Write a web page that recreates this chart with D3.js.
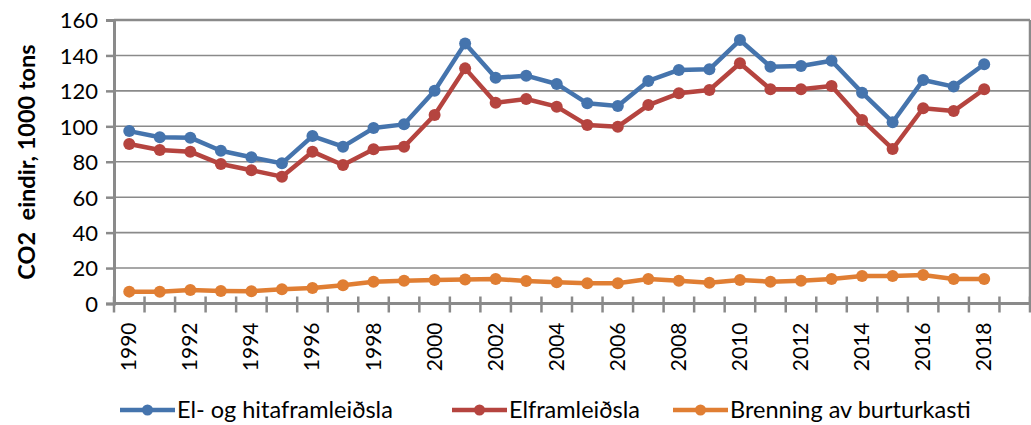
<!DOCTYPE html>
<html><head><meta charset="utf-8">
<script src="https://cdn.jsdelivr.net/npm/d3@7"></script>
<style>body{margin:0;background:#fff}svg{display:block;font-family:Lato,"Open Sans",sans-serif}</style>
</head><body><svg id="c" width="1031" height="425"></svg>
<script>
const years = d3.range(1990, 2020);
const tickLabels = ["1990","1992","1994","1996","1998","2000","2002","2004","2006","2008","2010","2012","2014","2016","2018"];
const yTicks = [0,20,40,60,80,100,120,140,160];
const seriesNames = ["El- og hitaframleiðsla","Elframleiðsla","Brenning av burturkasti"];
const elHita = [97.3,93.8,93.6,86.2,82.5,79.1,94.5,88.5,99.0,101.1,120.1,146.8,127.4,128.6,123.9,113.0,111.5,125.6,131.8,132.2,148.7,133.6,134.0,137.0,119.0,102.3,126.1,122.4,135.0];
const elfram = [90.0,86.6,85.7,78.7,75.2,71.6,85.7,78.2,87.0,88.5,106.4,132.7,113.3,115.4,111.1,100.7,99.8,112.0,118.6,120.5,135.6,120.9,120.9,122.7,103.6,87.2,110.2,108.6,120.9];
const brenning = [6.7,6.6,7.6,7.1,6.9,8.0,8.7,10.3,12.3,12.9,13.3,13.6,13.8,12.7,12.0,11.4,11.4,13.8,12.9,11.7,13.3,12.3,12.9,13.8,15.5,15.5,16.1,13.8,13.8];
const colors = ["#4574ad","#b5443f","#e07e33"];
const series = [elHita, elfram, brenning];

const svg = d3.select("#c");
const L = 114, R = 1030, T = 20, B = 303.5;
const x = d3.scaleBand().domain(years).range([L, R]).padding(0);
const y = d3.scaleLinear().domain([0,160]).range([B, T]);
const axisColor = "#8a8a8a";

// gridlines
svg.append("g").selectAll("line").data(yTicks.filter(d=>d>0)).join("line")
  .attr("x1", L).attr("x2", R).attr("y1", d=>y(d)).attr("y2", d=>y(d))
  .attr("stroke", axisColor).attr("stroke-width", d=>d===160?2.5:1.6);
// right border
svg.append("line").attr("x1", R).attr("x2", R).attr("y1", T).attr("y2", B)
  .attr("stroke", axisColor).attr("stroke-width", 2.5);

// y axis
const yAxis = svg.append("g").attr("transform", `translate(${L},0)`)
  .call(d3.axisLeft(y).tickValues(yTicks).tickSize(8).tickPadding(8));
yAxis.select(".domain").attr("stroke", axisColor).attr("stroke-width", 3);
yAxis.selectAll(".tick line").attr("stroke", axisColor).attr("stroke-width", 2.5);
yAxis.selectAll(".tick text").attr("font-size", 22).attr("fill", "#000").attr("font-family","Lato").attr("dy","0.36em");

// x axis
const bounds = years.map(d=>x(d)).concat([R]);
svg.append("line").attr("x1", L).attr("x2", R).attr("y1", B).attr("y2", B)
  .attr("stroke", axisColor).attr("stroke-width", 3);
svg.append("g").selectAll("line").data(bounds).join("line")
  .attr("x1", d=>d).attr("x2", d=>d).attr("y1", B-7).attr("y2", B+9)
  .attr("stroke", axisColor).attr("stroke-width", 2.5);
svg.append("g").selectAll("text").data(tickLabels).join("text")
  .attr("transform", d=>`translate(${x(+d)+x.bandwidth()/2+7},${B+19}) rotate(-90)`)
  .attr("text-anchor","end").attr("font-size", 21).attr("fill","#000").text(d=>d);

// y label
svg.append("text").attr("transform", `translate(${35},${162}) rotate(-90)`)
  .attr("text-anchor","middle").attr("font-size", 23.5).attr("font-weight","bold")
  .style("white-space","pre").text("CO2  eindir, 1000 tons");

// series
const line = d3.line().x((d,i)=>x(years[i])+x.bandwidth()/2).y(d=>y(d));
series.forEach((s,k)=>{
  const g = svg.append("g");
  g.append("path").attr("d", line(s)).attr("fill","none").attr("stroke", colors[k])
    .attr("stroke-width", 4.5).attr("stroke-linejoin","round");
  g.selectAll("circle").data(s).join("circle")
    .attr("cx",(d,i)=>x(years[i])+x.bandwidth()/2).attr("cy", d=>y(d)).attr("r", 6)
    .attr("fill", colors[k]);
});

// legend
const legX = [120, 452, 673];
const legY = 410;
seriesNames.forEach((n,k)=>{
  const g = svg.append("g").attr("transform", `translate(${legX[k]},${legY})`);
  g.append("line").attr("x1",0).attr("x2",55).attr("y1",0).attr("y2",0)
    .attr("stroke", colors[k]).attr("stroke-width", 4.5);
  g.append("circle").attr("cx",27.5).attr("cy",0).attr("r",5.5).attr("fill",colors[k]);
  g.append("text").attr("x",57).attr("y",0).attr("dy","0.35em").attr("font-size",23.5)
    .attr("fill","#000").text(n);
});
</script></body></html>
